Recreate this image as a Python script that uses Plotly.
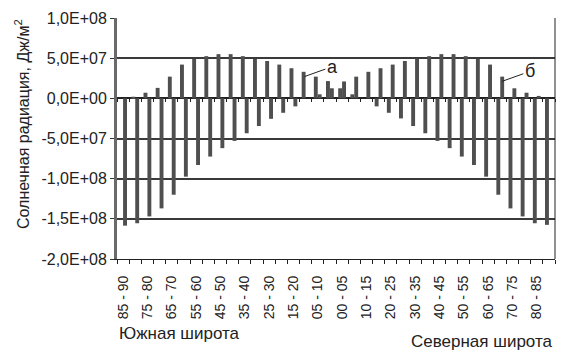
import numpy as np
import plotly.graph_objects as go

# Categories (latitude bands): south 85-90 ... 00-05, then north 00-05 ... 85-90
south = ["85 - 90", "80 - 85", "75 - 80", "70 - 75", "65 - 70", "60 - 65", "55 - 60", "50 - 55",
         "45 - 50", "40 - 45", "35 - 40", "30 - 35", "25 - 30", "20 - 25", "15 - 20", "10 - 15",
         "05 - 10", "00 - 05"]
north = ["00 - 05", "05 - 10", "10 - 15", "15 - 20", "20 - 25", "25 - 30", "30 - 35", "35 - 40",
         "40 - 45", "45 - 50", "50 - 55", "55 - 60", "60 - 65", "65 - 70", "70 - 75", "75 - 80",
         "80 - 85", "85 - 90"]
labels = south + north

# Series "а" (left bar of each pair), J/m^2
series_a = [0.0, 0.2e7, 0.7e7, 1.3e7, 2.7e7, 4.2e7, 4.9e7, 5.25e7, 5.5e7, 5.5e7, 5.25e7, 4.9e7,
            4.65e7, 4.2e7, 3.75e7, 3.3e7, 2.7e7, 2.15e7,
            1.25e7, 0.5e7, 0.0, -1.0e7, -1.8e7, -2.5e7, -3.45e7, -4.35e7, -5.3e7, -6.2e7,
            -7.25e7, -8.3e7, -9.75e7, -12.0e7, -13.7e7, -14.7e7, -15.55e7, -15.75e7]
# Series "б" (right bar of each pair)
series_b = [-15.85e7, -15.55e7, -14.7e7, -13.7e7, -12.0e7, -9.75e7, -8.3e7, -7.25e7, -6.2e7,
            -5.3e7, -4.35e7, -3.45e7, -2.55e7, -1.8e7, -1.0e7, 0.0, 0.5e7, 1.25e7,
            2.1e7, 2.7e7, 3.3e7, 3.75e7, 4.2e7, 4.65e7, 4.95e7, 5.25e7, 5.5e7, 5.5e7,
            5.25e7, 4.9e7, 4.2e7, 2.7e7, 1.25e7, 0.7e7, 0.3e7, 0.0]

y_tickvals = [1.0e8, 5.0e7, 0.0, -5.0e7, -1.0e8, -1.5e8, -2.0e8]
y_ticktext = ["1,0E+08", "5,0E+07", "0,0E+00", "-5,0E+07", "-1,0E+08", "-1,5E+08", "-2,0E+08"]

n = len(labels)
idx = list(range(n))
label_idx = idx[::2]
label_txt = labels[::2]
bounds = list(np.arange(n + 1) - 0.5)

FONT = "Liberation Sans, Arial, sans-serif"
BAR = "#4f4f4f"

fig = go.Figure()
fig.add_trace(go.Bar(x=idx, y=series_a, name="а", marker=dict(color=BAR, line=dict(width=0))))
fig.add_trace(go.Bar(x=idx, y=series_b, name="б", marker=dict(color=BAR, line=dict(width=0))))
# invisible helper trace for the zero-line tick axis
fig.add_trace(go.Scatter(x=[0], y=[0], xaxis="x2", mode="markers",
                         marker=dict(opacity=0), hoverinfo="skip", showlegend=False))

fig.update_layout(
    width=557, height=343,
    margin=dict(l=109, r=10, t=10, b=92),
    paper_bgcolor="white", plot_bgcolor="white",
    barmode="group", bargap=0.36, bargroupgap=0,
    showlegend=False,
    font=dict(family=FONT, color="#222222"),
    xaxis=dict(
        automargin=False,
        range=[-0.5, n - 0.5], tickmode="array", tickvals=label_idx, ticktext=label_txt,
        tickangle=-90, ticks="outside", ticklen=10, tickcolor="rgba(0,0,0,0)",
        tickfont=dict(size=14, color="#222"),
        showgrid=False, showline=True, linecolor="#222", linewidth=1,
        minor=dict(tickmode="array", tickvals=bounds, ticks="outside", ticklen=4,
                   tickcolor="#222", tickwidth=1, showgrid=False),
        zeroline=False,
    ),
    xaxis2=dict(
        automargin=False,
        overlaying="x", matches="x", anchor="free", position=2 / 3,
        showticklabels=False, ticks="", showgrid=False, showline=False, zeroline=False,
        tickmode="array", tickvals=label_idx,
        minor=dict(tickmode="array", tickvals=bounds, ticks="outside", ticklen=3,
                   tickcolor="#222", tickwidth=1, showgrid=False),
    ),
    yaxis=dict(
        automargin=False,
        range=[-2.0e8, 1.0e8], tickmode="array", tickvals=y_tickvals, ticktext=y_ticktext,
        tickfont=dict(size=16, color="#222"), ticks="outside", ticklen=4, tickcolor="#333",
        showgrid=True, gridcolor="#3a3a3a", gridwidth=1.5,
        zeroline=True, zerolinecolor="#222", zerolinewidth=2,
        showline=True, linecolor="#6a6a6a", linewidth=3,
    ),
    shapes=[dict(type="line", xref="paper", yref="paper", x0=1, x1=1, y0=0, y1=1,
                 line=dict(color="#222", width=1))],
    annotations=[
        dict(text="Солнечная радиация, Дж/м<sup>2</sup>", xref="paper", yref="paper",
             x=0, xshift=-95, y=0.56, xanchor="center", yanchor="middle", textangle=-90,
             showarrow=False, font=dict(size=16, color="#222")),
        dict(text="Южная широта", xref="paper", yref="paper", x=0, y=0, yshift=-74,
             xanchor="left", yanchor="middle", showarrow=False, font=dict(size=17, color="#222")),
        dict(text="Северная широта", xref="paper", yref="paper", x=1, y=0, yshift=-82,
             xanchor="right", yanchor="middle", showarrow=False, font=dict(size=17, color="#222")),
        dict(text="а", x=15 - 0.1, y=series_a[15] * 0.82, xref="x", yref="y",
             showarrow=True, arrowhead=0, arrowwidth=1, arrowcolor="#222",
             ax=28, ay=-10, font=dict(size=18, color="#222"), standoff=0),
        dict(text="б", x=31 + 0.13, y=series_b[31] * 0.78, xref="x", yref="y",
             showarrow=True, arrowhead=0, arrowwidth=1, arrowcolor="#222",
             ax=28, ay=-10, font=dict(size=18, color="#222"), standoff=0),
    ],
)

fig.write_html("out.html")
